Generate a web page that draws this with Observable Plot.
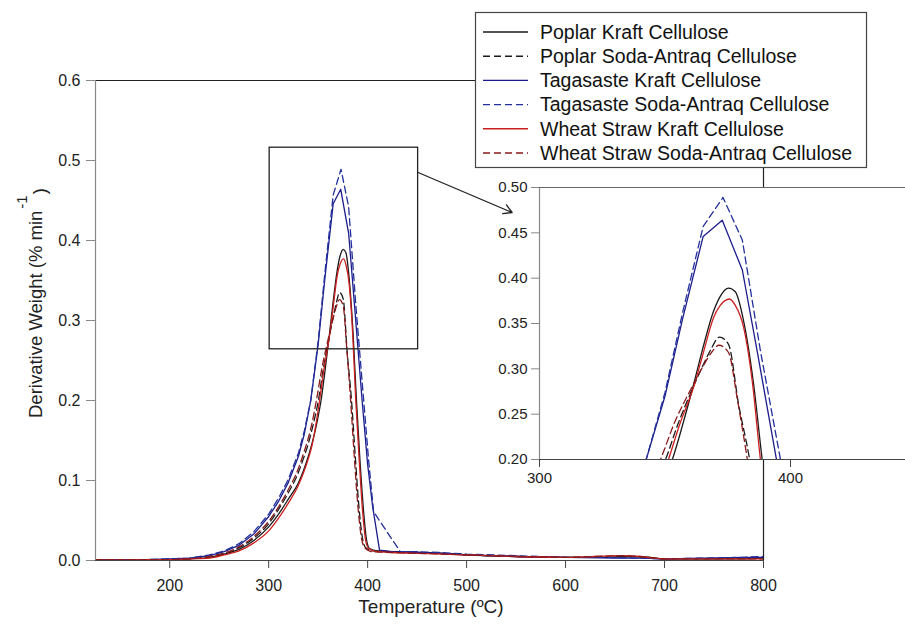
<!DOCTYPE html>
<html>
<head>
<meta charset="utf-8">
<script src="https://cdn.jsdelivr.net/npm/d3@7"></script>
<script src="https://cdn.jsdelivr.net/npm/@observablehq/plot@0.6"></script>
<style>
  html, body { margin: 0; padding: 0; background: white; }
  #wrap { position: relative; width: 905px; height: 628px; overflow: hidden; font-family: "Liberation Sans", Arial, sans-serif; }
  #wrap > svg, #wrap > div { position: absolute; }
</style>
</head>
<body>
<div id="wrap"></div>
<script>
// ---- data: [temperature °C, derivative weight % min^-1] ----
const poplarKraft = [[125,0.001],[150,0.001],[175,0.001],[200,0.001],[220,0.002],[240,0.004],[255,0.008],[270,0.014],[285,0.025],[300,0.042],[310,0.058],[320,0.077],[330,0.097],[335,0.112],[340,0.130],[345,0.152],[349,0.174],[352.9,0.2],[357,0.238],[361.4,0.283],[365,0.322],[369.4,0.364],[372,0.38],[375.3,0.389],[378,0.385],[381.3,0.353],[385.3,0.283],[388.7,0.2],[392,0.13],[396,0.06],[399,0.025],[402,0.015],[410,0.012],[425,0.011],[450,0.010],[475,0.009],[500,0.007],[550,0.005],[600,0.004],[640,0.004],[665,0.005],[685,0.004],[700,0.002],[740,0.002],[780,0.002],[800,0.003]];
const poplarSoda = [[125,0.001],[150,0.001],[175,0.001],[200,0.001],[220,0.002],[240,0.005],[255,0.009],[270,0.016],[285,0.028],[300,0.046],[310,0.064],[320,0.085],[330,0.110],[335,0.127],[340,0.146],[345,0.170],[350.2,0.2],[355,0.238],[360,0.272],[365,0.303],[368,0.32],[371.7,0.335],[375.3,0.327],[379.3,0.261],[383.7,0.2],[387.5,0.13],[391,0.07],[394.5,0.03],[398,0.016],[405,0.012],[425,0.011],[450,0.010],[475,0.009],[500,0.007],[550,0.005],[600,0.004],[640,0.004],[665,0.005],[685,0.004],[700,0.002],[740,0.002],[780,0.003],[800,0.003]];
const tagasasteKraft = [[125,0.001],[150,0.001],[175,0.001],[200,0.002],[220,0.003],[240,0.006],[255,0.011],[270,0.019],[285,0.033],[300,0.055],[310,0.074],[320,0.098],[330,0.130],[336,0.158],[342.5,0.2],[350,0.270],[357,0.355],[365.2,0.446],[372.8,0.464],[380.8,0.409],[387,0.315],[394.4,0.2],[400,0.12],[405,0.068],[412,0.013],[425,0.011],[450,0.010],[475,0.009],[500,0.007],[550,0.005],[600,0.004],[650,0.003],[680,0.003],[700,0.002],[740,0.003],[780,0.004],[800,0.004]];
const tagasasteSoda = [[125,0.001],[150,0.001],[175,0.001],[200,0.002],[220,0.003],[240,0.007],[255,0.012],[270,0.021],[285,0.036],[300,0.058],[310,0.078],[320,0.102],[330,0.134],[336,0.162],[342.5,0.2],[350,0.274],[357,0.362],[365.2,0.457],[373.1,0.489],[380.8,0.442],[388,0.32],[396,0.2],[401,0.125],[406,0.061],[420,0.035],[433,0.011],[450,0.011],[475,0.010],[500,0.008],[550,0.006],[600,0.004],[640,0.004],[670,0.003],[700,0.002],[740,0.003],[780,0.004],[800,0.005]];
const wheatKraft = [[125,0.0005],[150,0.0005],[175,0.001],[200,0.001],[220,0.002],[240,0.003],[255,0.007],[270,0.012],[285,0.022],[300,0.037],[310,0.053],[320,0.072],[330,0.094],[335,0.109],[340,0.127],[344,0.145],[348,0.172],[351.4,0.2],[356,0.24],[361.4,0.28],[365,0.315],[369.4,0.357],[372,0.37],[375.7,0.377],[378,0.37],[381.3,0.346],[384.9,0.283],[388,0.2],[391.5,0.125],[395,0.06],[398,0.025],[401,0.015],[410,0.011],[425,0.010],[450,0.009],[475,0.008],[500,0.007],[550,0.005],[600,0.004],[630,0.005],[655,0.006],[675,0.005],[690,0.003],[700,0.002],[740,0.002],[780,0.002],[800,0.002]];
const wheatSoda = [[125,0.001],[150,0.001],[175,0.001],[200,0.001],[220,0.002],[240,0.005],[255,0.009],[270,0.017],[285,0.03],[300,0.049],[310,0.067],[320,0.089],[330,0.115],[335,0.133],[340,0.153],[344,0.173],[348.2,0.2],[354,0.242],[360,0.276],[365,0.302],[368.5,0.318],[371.5,0.326],[375.3,0.318],[378.9,0.265],[382.8,0.2],[386.5,0.13],[390,0.07],[393.5,0.03],[397,0.016],[405,0.011],[425,0.010],[450,0.009],[475,0.008],[500,0.007],[550,0.005],[600,0.004],[630,0.005],[655,0.006],[675,0.005],[690,0.003],[700,0.002],[740,0.002],[780,0.002],[800,0.002]];

const seriesNames = ["Poplar Kraft Cellulose","Poplar Soda-Antraq Cellulose","Tagasaste Kraft Cellulose","Tagasaste Soda-Antraq Cellulose","Wheat Straw Kraft Cellulose","Wheat Straw Soda-Antraq Cellulose"];
const seriesData = [poplarKraft, poplarSoda, tagasasteKraft, tagasasteSoda, wheatKraft, wheatSoda];
const seriesColors = ["#1a1a1a","#1a1a1a","#1c1c8c","#22309c","#cc1f1f","#8b1a1a"];
const seriesDashed = [false, true, false, true, false, true];
const seriesCurve = ["monotone-x","monotone-x","linear","linear","monotone-x","monotone-x"];

const xTicks = [200,300,400,500,600,700,800];
const yTicks = [0,0.1,0.2,0.3,0.4,0.5,0.6];
const insetXTicks = [300,400];
const insetYTicks = [0.20,0.25,0.30,0.35,0.40,0.45,0.50];
const zoomBox = [{x1: 301, x2: 451, y1: 0.264, y2: 0.516}];
const zoomArrow = [{x1: 451, y1: 0.485, x2: 546, y2: 0.435}];

const FONT = "'Liberation Sans', Arial, Helvetica, sans-serif";

function lineMarks(clip) {
  return seriesData.map((d, i) => Plot.line(d, {
    x: p => p[0], y: p => p[1],
    stroke: seriesColors[i], strokeWidth: 1.3,
    strokeDasharray: seriesDashed[i] ? "7,4" : null,
    curve: seriesCurve[i],
    clip: clip
  }));
}

const wrap = document.getElementById("wrap");

// ---- main chart ----
const main = Plot.plot({
  width: 905, height: 628,
  marginLeft: 95, marginRight: 142, marginTop: 80, marginBottom: 68,
  x: {domain: [125, 800]},
  y: {domain: [0, 0.6]},
  style: {fontFamily: FONT, fontSize: "16px", color: "#222", background: "white"},
  marks: [
    Plot.ruleY([0.6], {stroke: "#222", strokeWidth: 1.2}),
    Plot.ruleX([800], {stroke: "#222", strokeWidth: 1.2}),
    ...lineMarks(true),
    Plot.rect(zoomBox, {x1: "x1", x2: "x2", y1: "y1", y2: "y2", fill: "none", stroke: "#222", strokeWidth: 1.3}),
    Plot.arrow(zoomArrow, {x1: "x1", y1: "y1", x2: "x2", y2: "y2", stroke: "#222", strokeWidth: 1.3, headLength: 11}),
    Plot.ruleX([125], {stroke: "#888", strokeWidth: 1.2}),
    Plot.ruleY([0], {stroke: "#444", strokeWidth: 1.2}),
    Plot.axisY({ticks: yTicks, tickFormat: d3.format(".1f"), tickSize: 9, tickPadding: 6, label: null, stroke: "#888"}),
    Plot.axisX({ticks: xTicks, tickSize: 8, tickPadding: 11, label: null, stroke: "#444"})
  ]
});
main.style.left = "0px"; main.style.top = "0px";
wrap.appendChild(main);

const msvg = d3.select(main);
// y-axis title with superscript
const yt = msvg.append("text")
  .attr("transform", "translate(42,418) rotate(-90)")
  .attr("font-family", FONT).attr("font-size", 18.5).attr("fill", "#222")
  .attr("text-anchor", "start");
yt.append("tspan").text("Derivative Weight (% min");
yt.append("tspan").attr("dy", "-1em").attr("dx", "2").attr("font-size", 15).text("-1");
yt.append("tspan").attr("dy", "1em").attr("dx", "1").text(")");
// x-axis title
msvg.append("text")
  .attr("x", 431).attr("y", 613)
  .attr("font-family", FONT).attr("font-size", 19).attr("fill", "#222")
  .attr("text-anchor", "middle")
  .text("Temperature (ºC)");

// ---- inset ----
const inset = Plot.plot({
  width: 426, height: 317,
  marginLeft: 60, marginRight: 0, marginTop: 10, marginBottom: 35,
  x: {domain: [300, 445.8]},
  y: {domain: [0.2, 0.5]},
  style: {fontFamily: FONT, fontSize: "15px", color: "#222", background: "none"},
  marks: [
    Plot.frame({fill: "white", stroke: "none"}),
    ...lineMarks(true),
    Plot.ruleX([300], {stroke: "#888", strokeWidth: 1.2}),
    Plot.ruleY([0.2], {stroke: "#444", strokeWidth: 1.2}),
    Plot.ruleY([0.5], {stroke: "#666", strokeWidth: 1.2}),
    Plot.axisY({ticks: insetYTicks, tickFormat: d3.format(".2f"), tickSize: 8, tickPadding: 4, label: null, stroke: "#888"}),
    Plot.axisX({ticks: insetXTicks, tickSize: 8, tickPadding: 5, label: null, stroke: "#444"})
  ]
});
inset.style.left = "479px"; inset.style.top = "177px";
wrap.appendChild(inset);

// ---- legend ----
const leg = d3.create("svg").attr("width", 905).attr("height", 628)
  .style("left", "0px").style("top", "0px").style("pointer-events", "none");
leg.append("rect").attr("x", 475.5).attr("y", 12.5).attr("width", 391).attr("height", 155)
  .attr("fill", "white").attr("stroke", "#444").attr("stroke-width", 1.2);
seriesNames.forEach((name, i) => {
  const cy = 32 + i * 24.2;
  leg.append("line").attr("x1", 483).attr("x2", 528).attr("y1", cy).attr("y2", cy)
    .attr("stroke", seriesColors[i]).attr("stroke-width", 1.4)
    .attr("stroke-dasharray", seriesDashed[i] ? "7,4" : null);
  leg.append("text").attr("x", 540).attr("y", cy + 6.7)
    .attr("font-family", FONT).attr("font-size", 19.5).attr("fill", "#111")
    .text(name);
});
wrap.appendChild(leg.node());
</script>
</body>
</html>
